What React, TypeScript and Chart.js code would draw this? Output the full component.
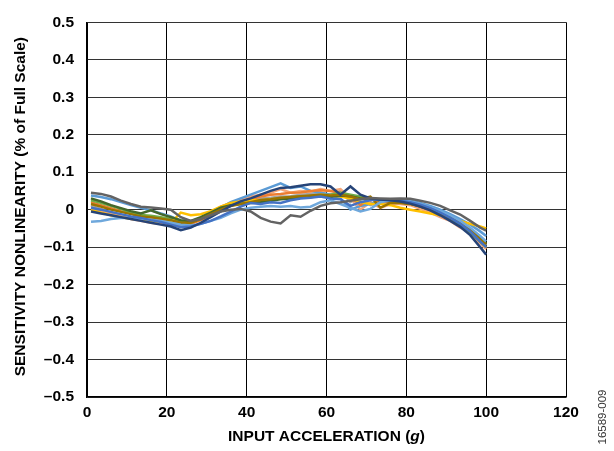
import React, { useEffect, useRef } from "react";
import { Chart, registerables } from "chart.js";

Chart.register(...registerables);

// Input acceleration (g) sample points
const X = [1, 3.5, 6, 8.5, 11, 13.5, 16, 18.5, 21, 23.5, 26, 28.5, 31, 33.5, 36, 38.5, 41, 43.5, 46, 48.5, 51, 53.5, 56, 58.5, 61, 63.5, 66, 68.5, 71, 73.5, 76, 78.5, 81, 83.5, 86, 88.5, 91, 93.5, 96, 98.5, 100];

// Sensitivity nonlinearity (% of full scale), one array per device
const NAVY = [-0.005, -0.01, -0.015, -0.02, -0.025, -0.03, -0.035, -0.04, -0.045, -0.055, -0.048, -0.035, -0.02, -0.005, 0.01, 0.022, 0.03, 0.04, 0.05, 0.058, 0.06, 0.064, 0.068, 0.068, 0.062, 0.04, 0.062, 0.04, 0.03, 0.027, 0.025, 0.022, 0.016, 0.008, -0.002, -0.015, -0.03, -0.046, -0.068, -0.1, -0.12];
const DARK_GREY = [0.045, 0.042, 0.035, 0.024, 0.015, 0.008, 0.006, 0.003, 0.0, -0.02, -0.03, -0.025, -0.015, -0.005, 0.0, 0.002, -0.005, -0.022, -0.032, -0.037, -0.015, -0.019, -0.003, 0.01, 0.017, 0.02, 0.024, 0.028, 0.031, 0.03, 0.029, 0.03, 0.029, 0.024, 0.018, 0.01, -0.002, -0.013, -0.03, -0.048, -0.056];
const LIGHT_BLUE = [0.038, 0.034, 0.028, 0.02, 0.012, 0.005, -0.002, -0.01, -0.018, -0.03, -0.032, -0.022, -0.01, 0.005, 0.02, 0.03, 0.04, 0.05, 0.06, 0.07, 0.058, 0.062, 0.05, 0.045, 0.04, 0.03, 0.0, 0.01, 0.015, 0.022, 0.025, 0.026, 0.024, 0.018, 0.01, 0.0, -0.012, -0.025, -0.04, -0.058, -0.07];
const SKY_BLUE = [-0.032, -0.03, -0.025, -0.022, -0.022, -0.024, -0.027, -0.03, -0.035, -0.04, -0.042, -0.038, -0.03, -0.022, -0.01, 0.0, 0.005, 0.008, 0.01, 0.008, 0.01, 0.006, 0.008, 0.02, 0.025, 0.015, 0.005, -0.005, 0.002, 0.02, 0.025, 0.026, 0.022, 0.016, 0.006, -0.004, -0.015, -0.03, -0.048, -0.07, -0.085];
const BLUE = [0.005, 0.0, -0.006, -0.012, -0.018, -0.022, -0.028, -0.033, -0.04, -0.047, -0.045, -0.038, -0.03, -0.018, -0.005, 0.008, 0.018, 0.015, 0.02, 0.018, 0.025, 0.03, 0.032, 0.035, 0.03, 0.028, 0.01, 0.02, 0.025, 0.028, 0.026, 0.024, 0.02, 0.013, 0.004, -0.008, -0.022, -0.038, -0.058, -0.085, -0.1];
const ORANGE = [0.02, 0.012, 0.004, -0.004, -0.01, -0.016, -0.022, -0.028, -0.034, -0.04, -0.038, -0.028, -0.015, 0.0, 0.012, 0.022, 0.028, 0.035, 0.04, 0.042, 0.045, 0.046, 0.05, 0.052, 0.05, 0.045, 0.035, 0.012, 0.03, 0.02, 0.02, 0.02, 0.016, 0.008, -0.002, -0.012, -0.025, -0.04, -0.06, -0.085, -0.1];
const LIGHT_ORANGE = [0.003, -0.005, -0.012, -0.018, -0.025, -0.03, -0.035, -0.038, -0.04, -0.045, -0.04, -0.022, -0.008, 0.008, 0.018, 0.028, 0.035, 0.04, 0.045, 0.055, 0.045, 0.05, 0.048, 0.055, 0.05, 0.055, 0.03, 0.0, 0.02, 0.005, 0.015, 0.015, 0.012, 0.002, -0.008, -0.02, -0.03, -0.048, -0.06, -0.09, -0.105];
const GOLD = [0.0, -0.008, -0.015, -0.02, -0.024, -0.027, -0.03, -0.032, -0.035, -0.008, -0.015, -0.012, -0.004, 0.008, 0.018, 0.022, 0.025, 0.025, 0.028, 0.03, 0.032, 0.034, 0.036, 0.04, 0.038, 0.035, 0.03, 0.02, 0.015, 0.015, 0.012, 0.005, 0.0, -0.005, -0.01, -0.015, -0.02, -0.03, -0.038, -0.045, -0.05];
const DARK_GOLD = [0.015, 0.008, 0.0, -0.006, -0.012, -0.018, -0.02, -0.024, -0.028, -0.035, -0.035, -0.025, -0.012, 0.0, 0.01, 0.015, 0.02, 0.026, 0.028, 0.032, 0.034, 0.036, 0.038, 0.04, 0.038, 0.04, 0.035, 0.028, 0.035, 0.005, 0.018, 0.018, 0.015, 0.01, 0.002, -0.01, -0.022, -0.036, -0.055, -0.078, -0.092];
const GREEN = [0.025, 0.018, 0.01, 0.002, -0.008, -0.014, -0.016, -0.02, -0.025, -0.032, -0.033, -0.022, -0.01, 0.002, 0.012, 0.018, 0.02, 0.024, 0.028, 0.03, 0.033, 0.035, 0.036, 0.038, 0.04, 0.045, 0.04, 0.035, 0.03, 0.025, 0.024, 0.022, 0.018, 0.012, 0.002, -0.01, -0.024, -0.04, -0.06, -0.085, -0.1];
const DARK_GREEN = [0.03, 0.022, 0.012, 0.004, -0.004, -0.01, -0.002, -0.012, -0.02, -0.028, -0.03, -0.02, -0.008, 0.005, 0.012, 0.015, 0.018, 0.02, 0.024, 0.028, 0.03, 0.032, 0.034, 0.036, 0.034, 0.038, 0.036, 0.03, 0.028, 0.025, 0.022, 0.02, 0.016, 0.008, 0.0, -0.01, -0.022, -0.036, -0.054, -0.076, -0.09];
const GREY = [0.01, 0.002, -0.008, -0.018, -0.024, -0.026, -0.028, -0.03, -0.033, -0.037, -0.036, -0.025, -0.015, -0.002, 0.01, 0.02, 0.025, 0.03, 0.032, 0.035, 0.036, 0.04, 0.042, 0.045, 0.04, 0.05, 0.02, 0.038, 0.012, 0.02, 0.018, 0.017, 0.014, 0.008, 0.0, -0.01, -0.022, -0.036, -0.055, -0.078, -0.095];

const SERIES = [
  { label: "Device 1", color: "#636363", values: DARK_GREY },
  { label: "Device 2", color: "#264478", values: NAVY },
  { label: "Device 3", color: "#4472C4", values: BLUE },
  { label: "Device 4", color: "#6FA8DC", values: SKY_BLUE },
  { label: "Device 5", color: "#997300", values: DARK_GOLD },
  { label: "Device 6", color: "#43682B", values: DARK_GREEN },
  { label: "Device 7", color: "#FFC000", values: GOLD },
  { label: "Device 8", color: "#70AD47", values: GREEN },
  { label: "Device 9", color: "#ED7D31", values: ORANGE },
  { label: "Device 10", color: "#5B9BD5", values: LIGHT_BLUE },
  { label: "Device 11", color: "#F4A77A", values: LIGHT_ORANGE },
  { label: "Device 12", color: "#A5A5A5", values: GREY },
];

const X_MIN = 0;
const X_MAX = 120;
const X_STEP = 20;
const Y_MIN = -0.5;
const Y_MAX = 0.5;
const Y_STEP = 0.1;

const Y_TITLE = "SENSITIVITY NONLINEARITY (% of Full Scale)";
const X_TITLE_PARTS = ["INPUT ACCELERATION (", "g", ")"];
const FIG_ID = "16589-009";

const FONT = '"Liberation Sans", Arial, Helvetica, sans-serif';
const FS = 15.5;

const titlesPlugin = {
  id: "titles",
  afterDraw(chart: any) {
    const ctx = chart.ctx as CanvasRenderingContext2D;
    const a = chart.chartArea;
    ctx.save();
    ctx.fillStyle = "#000";
    ctx.textBaseline = "middle";
    // Y axis title
    ctx.save();
    ctx.translate(21, (a.top + a.bottom) / 2 - 3);
    ctx.rotate(-Math.PI / 2);
    ctx.font = `bold ${FS}px ${FONT}`;
    ctx.textAlign = "center";
    ctx.fillText(Y_TITLE, 0, 0);
    ctx.restore();
    // X axis title with italic g
    const fonts = [`bold ${FS}px ${FONT}`, `italic bold ${FS}px ${FONT}`, `bold ${FS}px ${FONT}`];
    let total = 0;
    const widths = X_TITLE_PARTS.map((p, i) => {
      ctx.font = fonts[i];
      const w = ctx.measureText(p).width;
      total += w;
      return w;
    });
    let xPos = (a.left + a.right) / 2 - total / 2;
    ctx.textAlign = "left";
    X_TITLE_PARTS.forEach((p, i) => {
      ctx.font = fonts[i];
      ctx.fillText(p, xPos, 437);
      xPos += widths[i];
    });
    // figure id
    ctx.save();
    ctx.translate(603, 417);
    ctx.rotate(-Math.PI / 2);
    ctx.font = `11.5px ${FONT}`;
    ctx.fillStyle = "#333";
    ctx.textAlign = "center";
    ctx.fillText(FIG_ID, 0, 0);
    ctx.restore();
    ctx.restore();
  },
};

export default function App() {
  const ref = useRef<HTMLCanvasElement>(null);
  useEffect(() => {
    document.body.style.margin = "0";
    const chart = new Chart(ref.current!, {
      type: "line",
      data: {
        datasets: SERIES.map((s) => ({
          label: s.label,
          data: X.map((x, i) => ({ x, y: s.values[i] })),
          borderColor: s.color,
          backgroundColor: s.color,
          borderWidth: 2.5,
          pointRadius: 0,
          tension: 0,
          fill: false,
        })),
      },
      options: {
        animation: false,
        responsive: false,
        maintainAspectRatio: false,
        layout: { padding: { left: 0, right: 48, top: 13, bottom: 0 } },
        plugins: { legend: { display: false }, tooltip: { enabled: false } },
        scales: {
          x: {
            type: "linear",
            min: X_MIN,
            max: X_MAX,
            ticks: {
              stepSize: X_STEP,
              color: "#000",
              padding: 6,
              font: { family: FONT, size: FS, weight: "bold" },
            },
            grid: { color: "#000", lineWidth: 1, drawTicks: false },
            border: { color: "#000", width: 1.5 },
            afterFit: (s: any) => {
              s.height = 54;
            },
          },
          y: {
            type: "linear",
            min: Y_MIN,
            max: Y_MAX,
            ticks: {
              stepSize: Y_STEP,
              color: "#000",
              padding: 13,
              font: { family: FONT, size: FS, weight: "bold" },
              callback: (v: any) => {
                const n = Number(v);
                if (Math.abs(n) < 1e-9) return "0";
                return n < 0 ? "\u2013" + Math.abs(n).toFixed(1) : n.toFixed(1);
              },
            },
            grid: { color: "#333", lineWidth: 1, drawTicks: false },
            border: { color: "#000", width: 1.5 },
            afterFit: (s: any) => {
              s.width = 87;
            },
          },
        },
      } as any,
      plugins: [titlesPlugin],
    });
    return () => chart.destroy();
  }, []);
  return (
    <div style={{ width: 614, height: 451 }}>
      <canvas ref={ref} width={614} height={451} style={{ display: "block", width: 614, height: 451 }} />
    </div>
  );
}
